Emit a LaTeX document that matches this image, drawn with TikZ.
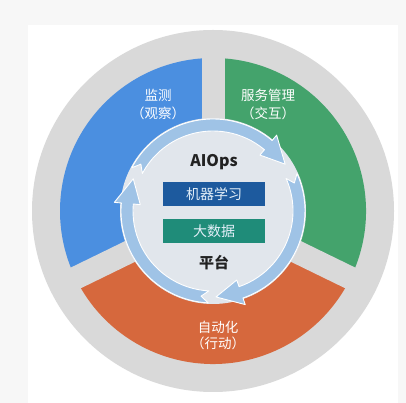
\documentclass[tikz,border=0pt]{standalone}
\usepackage{fontspec}
\setmainfont{Noto Sans CJK SC}
\usetikzlibrary{calc}
\definecolor{bgc}{HTML}{F7F7F7}
\definecolor{ringgray}{HTML}{D9D9D9}
\definecolor{secblue}{HTML}{4B8FE0}
\definecolor{secgreen}{HTML}{44A36C}
\definecolor{secorange}{HTML}{D6683D}
\definecolor{discc}{HTML}{E1E6EC}
\definecolor{arrowc}{HTML}{9FC3E6}
\definecolor{boxblue}{HTML}{1D5A9E}
\definecolor{boxteal}{HTML}{1F8C79}
\definecolor{boxtext}{HTML}{E3EFF8}
\definecolor{darktext}{HTML}{222222}
\newcommand\ringarrow[2]{%
  \filldraw[arrowstyle] (#1:92) arc[start angle=#1, end angle={#2+17}, radius=92]
    -- ({#2+17}:99) -- (#2:86) -- ({#2+17}:73) -- ({#2+17}:80)
    arc[start angle={#2+17}, end angle=#1, radius=80] -- ({#1-5}:86) -- cycle;}
\begin{document}
\begin{tikzpicture}[x=1pt,y=1pt,
  lab/.style={text=white, font=\fontsize{13.5}{15}\selectfont, inner sep=0pt},
  boxn/.style={minimum width=102pt, minimum height=24pt, inner sep=0pt, text=boxtext, font=\fontsize{14}{16}\selectfont},
  arrowstyle/.style={fill=arrowc, draw=white, line width=0.9pt, line join=round}]
\useasboundingbox (0,0) rectangle (406,403);
\fill[bgc] (0,0) rectangle (406,403);
\fill[white] (28,0) rectangle (398,378);
\coordinate (C) at (213,192);
\begin{scope}[shift={(C)}]
  \fill[ringgray] (0,0) circle (181);
  \fill[secblue] (0,0) -- (90:153) arc[start angle=90, end angle=206, radius=153] -- cycle;
  \fill[secorange] (0,0) -- (206:153) arc[start angle=206, end angle=334, radius=153] -- cycle;
  \fill[secgreen] (0,0) -- (334:153) arc[start angle=334, end angle=450, radius=153] -- cycle;
  \foreach \a in {90,206,334} \fill[ringgray, rotate=\a] (0,-11.5) rectangle (160,11.5);
  \fill[discc] (0,0) circle (93);
  \ringarrow{152}{33}
  \ringarrow{24}{-88}
  \ringarrow{267}{158}
\end{scope}
\node[lab] (mon) at (158,308) {监测};
\node[lab] (monb) at (158,290) {（观察）};
\node[lab] (svc) at (268,308) {服务管理};
\node[lab] (svcb) at (268,290) {（交互）};
\node[lab] (auto) at (218,76) {自动化};
\node[lab] (autob) at (218,60) {（行动）};
\node[text=darktext, font=\fontsize{16}{18}\selectfont\bfseries, inner sep=0pt] (aiops) at (214,241) {AIOps};
\node[boxn, fill=boxblue] (ml) at (214,209) {机器学习};
\node[boxn, fill=boxteal] (bd) at (214,172) {大数据};
\node[text=darktext, font=\fontsize{15}{17}\selectfont\bfseries, inner sep=0pt] (plat) at (214,140) {平台};
\end{tikzpicture}
\end{document}
